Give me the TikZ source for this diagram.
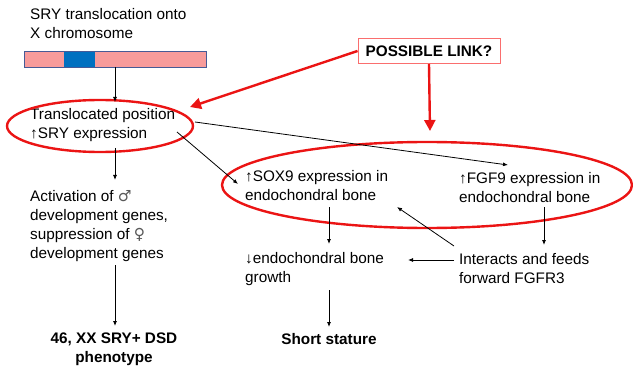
\documentclass[tikz,border=0pt]{standalone}
\usepackage{fontspec}
\setmainfont{Liberation Sans}
\newfontfamily\symfont{DejaVu Sans}
\usetikzlibrary{arrows.meta}
\definecolor{chrpink}{RGB}{247,155,155}
\definecolor{chrblue}{RGB}{0,112,192}
\definecolor{chredge}{RGB}{70,90,150}
\definecolor{linkred}{RGB}{235,20,20}
\definecolor{boxred}{RGB}{250,110,110}
\newcommand{\sexsym}[1]{{\symfont\color{black!65}#1}}
\begin{document}
\begin{tikzpicture}[x=1pt,y=-1pt,
  txt/.style={inner sep=0pt,align=left,anchor=west,font=\fontsize{15.3}{19}\selectfont},
  boldtxt/.style={inner sep=0pt,align=center,font=\fontsize{15.3}{19}\selectfont\bfseries},
  flow/.style={-{Latex[length=5pt,width=4pt]},line width=0.8pt},
  link/.style={-{Triangle[length=11pt,width=11pt]},line width=2.4pt,draw=linkred},
  ring/.style={draw=linkred,line width=2.4pt}]
\useasboundingbox (0,0) rectangle (633,369);

% X chromosome carrying the translocated SRY segment
\node[txt] (title) at (30,24) {SRY translocation onto\\X chromosome};
\fill[chrpink] (24,51) rectangle (206,67);
\fill[chrblue] (64,51) rectangle (95,67);
\draw[chredge,line width=0.6pt] (24,51) rectangle (206,67);
\coordinate (barout) at (115,67);

% left column
\node[txt] (sry) at (30,125) {Translocated position\\↑SRY expression};
\draw[ring] (100,126) ellipse [x radius=93,y radius=26];
\node[txt] (genes) at (30,226) {Activation of \sexsym{♂}\\development genes,\\suppression of \sexsym{♀}\\development genes};
\node[boldtxt] (dsd) at (114,349) {46, XX SRY+ DSD\\phenotype};

% middle and right columns
\node[txt] (sox) at (245,186) {↑SOX9 expression in\\endochondral bone};
\node[txt] (fgf) at (459,188) {↑FGF9 expression in\\endochondral bone};
\draw[ring] (427,185) ellipse [x radius=205,y radius=43];
\node[txt] (growth) at (245,269) {↓endochondral bone\\growth};
\node[txt] (fgfr) at (459,269) {Interacts and feeds\\forward FGFR3};
\node[boldtxt] (short) at (329,339) {Short stature};

% the open question
\node[boldtxt,draw=boxred,line width=1pt,minimum width=142pt,minimum height=25pt] (link) at (429,51) {POSSIBLE LINK?};

% arrow end points
\coordinate (sryin) at (115,102);
\coordinate (sryout) at (115,148);
\coordinate (genesin) at (115,180);
\coordinate (genesout) at (115,265);
\coordinate (dsdin) at (115,326);
\coordinate (sryA) at (177,132);
\coordinate (soxin) at (238,184);
\coordinate (sryB) at (195,122);
\coordinate (fgfin) at (508,165);
\coordinate (soxout) at (329,207);
\coordinate (growthin) at (329,244);
\coordinate (fgfout) at (544,207);
\coordinate (fgfrin) at (544,245);
\coordinate (fgfrW) at (454,260);
\coordinate (growthE) at (408,260);
\coordinate (fgfrNW) at (454,246);
\coordinate (soxfb) at (397,207);
\coordinate (growthout) at (329,290);
\coordinate (shortin) at (329,327);
\coordinate (ringone) at (190,107);
\coordinate (ringtwo) at (430,131);

% black connectors
\draw[flow] (barout) -- (sryin);
\draw[flow] (sryout) -- (genesin);
\draw[flow] (genesout) -- (dsdin);
\draw[flow] (sryA) -- (soxin);
\draw[flow] (sryB) -- (fgfin);
\draw[flow] (soxout) -- (growthin);
\draw[flow] (fgfout) -- (fgfrin);
\draw[flow] (fgfrW) -- (growthE);
\draw[flow] (fgfrNW) -- (soxfb);
\draw[flow] (growthout) -- (shortin);

% red connectors
\draw[link] (link.west) -- (ringone);
\draw[link] (link.south) -- (ringtwo);
\end{tikzpicture}
\end{document}
